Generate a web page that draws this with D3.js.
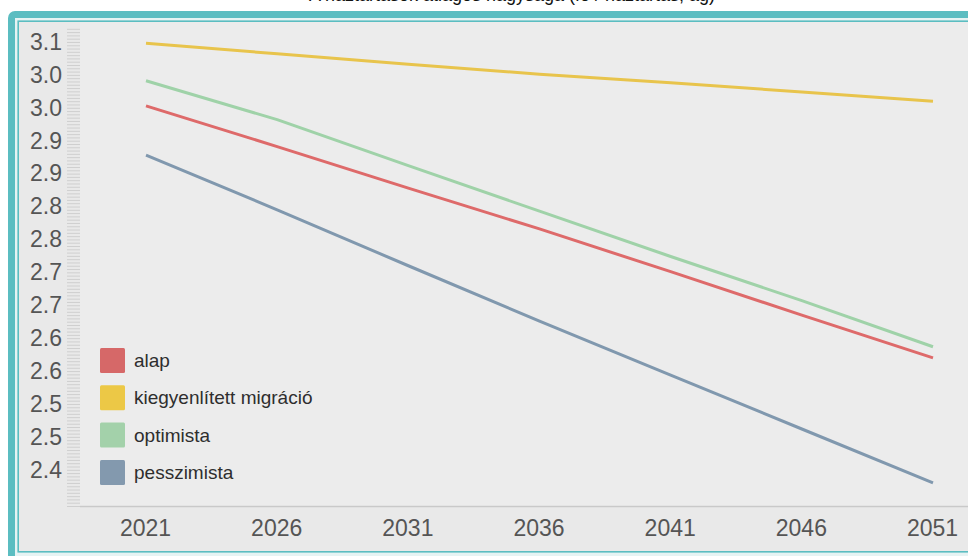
<!DOCTYPE html>
<html>
<head>
<meta charset="utf-8">
<script src="https://cdn.jsdelivr.net/npm/d3@7/dist/d3.min.js"></script>
<style>
  html, body { margin: 0; padding: 0; background: #ffffff; }
  svg { display: block; }
  text { font-family: "Liberation Sans", Arial, sans-serif; }
</style>
</head>
<body>
<svg id="chart" width="968" height="556"></svg>
<script>
// ---- data ----
const years = [2021, 2026, 2031, 2036, 2041, 2046, 2051];
const seriesNames = ["alap", "kiegyenlített migráció", "optimista", "pesszimista"];
const alap = [3.003, 2.941, 2.878, 2.816, 2.751, 2.685, 2.620];
const kiegyenlitett = [3.098, 3.082, 3.066, 3.051, 3.038, 3.024, 3.010];
const optimista = [3.041, 2.982, 2.912, 2.843, 2.774, 2.707, 2.637];
const pesszimista = [2.928, 2.845, 2.760, 2.676, 2.594, 2.512, 2.430];
const yTickValues = [3.10, 3.05, 3.00, 2.95, 2.90, 2.85, 2.80, 2.75, 2.70, 2.65, 2.60, 2.55, 2.50, 2.45];
const yTickLabels = ["3.1", "3.0", "3.0", "2.9", "2.9", "2.8", "2.8", "2.7", "2.7", "2.6", "2.6", "2.5", "2.5", "2.4"];
const titleText = "A háztartások átlagos nagysága (fő / háztartás, ág)";

const seriesValues = [alap, kiegyenlitett, optimista, pesszimista];
const lineColors = ["#de6a6a", "#e8c44c", "#9fd2a8", "#8098ae"];
const swatchColors = ["#d66868", "#ecc846", "#a3d1aa", "#8399ae"];

const svg = d3.select("#chart");
const teal = "#5bbdc1";

// frame
svg.append("rect").attr("x", 8).attr("y", 11).attr("width", 1100).attr("height", 700)
  .attr("rx", 7).attr("fill", teal);
svg.append("rect").attr("x", 15).attr("y", 18).attr("width", 1100).attr("height", 538)
  .attr("fill", "#e6f3f3");
svg.append("rect").attr("x", 18.2).attr("y", 21.2).attr("width", 1100).attr("height", 530.6)
  .attr("fill", "#e9e9e9").attr("stroke", teal).attr("stroke-width", 1.6);
// plot area
svg.append("rect").attr("x", 80).attr("y", 22).attr("width", 888).attr("height", 484)
  .attr("fill", "#ececec");

// title (cut off at the top edge, as in the reference)
svg.append("text").attr("x", 512).attr("y", 1).attr("text-anchor", "middle")
  .attr("font-size", 18).attr("fill", "#111").text(titleText);

// scales
const x = d3.scaleLinear().domain([years[0], years[years.length - 1]]).range([146, 933]);
const y = d3.scaleLinear().domain([2.395, 3.12]).range([506, 28.8]);

// minor ticks on y axis
const minorTicks = d3.range(0, 146).map(i => 2.395 + i * 0.005);
const yMinor = svg.append("g").attr("transform", "translate(80,0)")
  .call(d3.axisLeft(y).tickValues(minorTicks).tickSize(13).tickFormat(""));
yMinor.select(".domain").remove();
yMinor.selectAll(".tick line").attr("stroke", "#cfcfcf").attr("stroke-width", 1);

// y labels
const yLab = svg.append("g").attr("transform", "translate(80,0)")
  .call(d3.axisLeft(y).tickValues(yTickValues).tickSize(0).tickPadding(18)
    .tickFormat((d, i) => yTickLabels[i]));
yLab.select(".domain").remove();
yLab.selectAll("text").attr("font-size", 23).attr("fill", "#555")
  .attr("font-family", "'Liberation Sans', Arial, sans-serif");

// x axis
svg.append("line").attr("x1", 80).attr("x2", 968).attr("y1", 506.5).attr("y2", 506.5)
  .attr("stroke", "#c9c9c9").attr("stroke-width", 1.5);
const xAx = svg.append("g").attr("transform", "translate(0,506)")
  .call(d3.axisBottom(x).tickValues(years).tickSize(0).tickPadding(14).tickFormat(d3.format("d")));
xAx.select(".domain").remove();
xAx.selectAll("text").attr("font-size", 23).attr("fill", "#555")
  .attr("font-family", "'Liberation Sans', Arial, sans-serif").attr("dx", -1);

// lines
const line = d3.line().x((d, i) => x(years[i])).y(d => y(d));
const drawOrder = [1, 2, 0, 3];
drawOrder.forEach(k => {
  svg.append("path").datum(seriesValues[k]).attr("d", line)
    .attr("fill", "none").attr("stroke", lineColors[k]).attr("stroke-width", 3)
    .attr("stroke-linejoin", "round").attr("stroke-linecap", "butt");
});

// legend
const legend = svg.append("g").attr("transform", "translate(100,348)");
seriesNames.forEach((name, i) => {
  const g = legend.append("g").attr("transform", `translate(0,${i * 37.3})`);
  g.append("rect").attr("width", 25).attr("height", 25).attr("rx", 1.5)
    .attr("fill", swatchColors[i]);
  g.append("text").attr("x", 34).attr("y", 12.5).attr("dy", "0.35em")
    .attr("font-size", 19).attr("fill", "#2e2e2e").text(name);
});
</script>
</body>
</html>
